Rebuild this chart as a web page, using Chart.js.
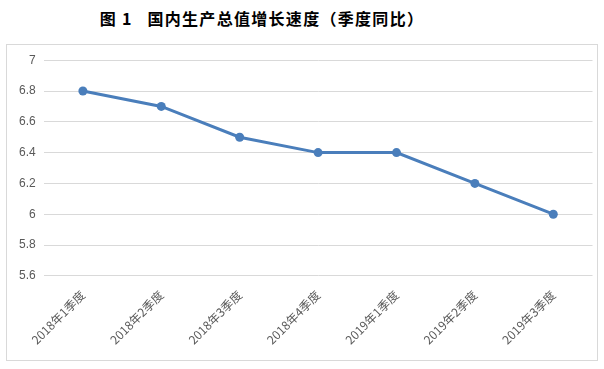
<!DOCTYPE html>
<html>
<head>
<meta charset="utf-8">
<script src="https://cdn.jsdelivr.net/npm/chart.js@4"></script>
<style>
    body { margin: 0; background: #fff; width: 604px; height: 369px; position: relative; overflow: hidden; }
    #title { position: absolute; left: 0; top: 6px; width: 524px; text-align: center; font-family: "Noto Sans CJK SC", sans-serif; font-weight: bold; font-size: 16px; color: #000; letter-spacing: 1.3px; }
    #box { position: absolute; left: 6px; top: 44px; width: 590px; height: 315px; border: 1px solid #d9d9d9; }
</style>
</head>
<body>
<div id="title">图 1&nbsp;&nbsp;&nbsp;国内生产总值增长速度（季度同比）</div>
<div id="box"><canvas id="gdpChart" width="590" height="315"></canvas></div>
<script>
// categorias y valores (%)
const quarters = ["2018年1季度", "2018年2季度", "2018年3季度", "2018年4季度", "2019年1季度", "2019年2季度", "2019年3季度"];
const growth = [6.8, 6.7, 6.5, 6.4, 6.4, 6.2, 6.0];
const yTicks = [5.6, 5.8, 6, 6.2, 6.4, 6.6, 6.8, 7];

const ctx = document.getElementById('gdpChart').getContext('2d');
new Chart(ctx, {
    type: 'line',
    data: {
        labels: quarters,
        datasets: [{
            data: growth,
            borderColor: "#4a7ebb",
            backgroundColor: "#4a7ebb",
            borderWidth: 3,
            pointRadius: 4.5,
            pointBackgroundColor: "#4a7ebb",
            pointBorderWidth: 0,
            tension: 0
        }]
    },
    options: {
        responsive: false,
        animation: false,
        layout: { padding: { left: 4, right: 4, top: 0, bottom: 9 } },
        plugins: { legend: { display: false }, tooltip: { enabled: false } },
        scales: {
            y: {
                min: 5.6,
                max: 7,
                afterBuildTicks: axis => { axis.ticks = yTicks.map(v => ({ value: v })); },
                grid: { color: '#d9d9d9', drawTicks: false },
                border: { display: false },
                ticks: {
                    color: '#595959',
                    padding: 8,
                    font: { family: "Arial, 'Liberation Sans'", size: 12 },
                    callback: v => String(Math.round(v * 10) / 10)
                }
            },
            x: {
                offset: true,
                grid: { display: false },
                border: { display: false },
                ticks: {
                    color: '#595959',
                    minRotation: 45,
                    maxRotation: 45,
                    padding: 4,
                    font: { family: "'Noto Sans CJK SC', sans-serif", size: 12 }
                }
            }
        }
    }
});
</script>
</body>
</html>
